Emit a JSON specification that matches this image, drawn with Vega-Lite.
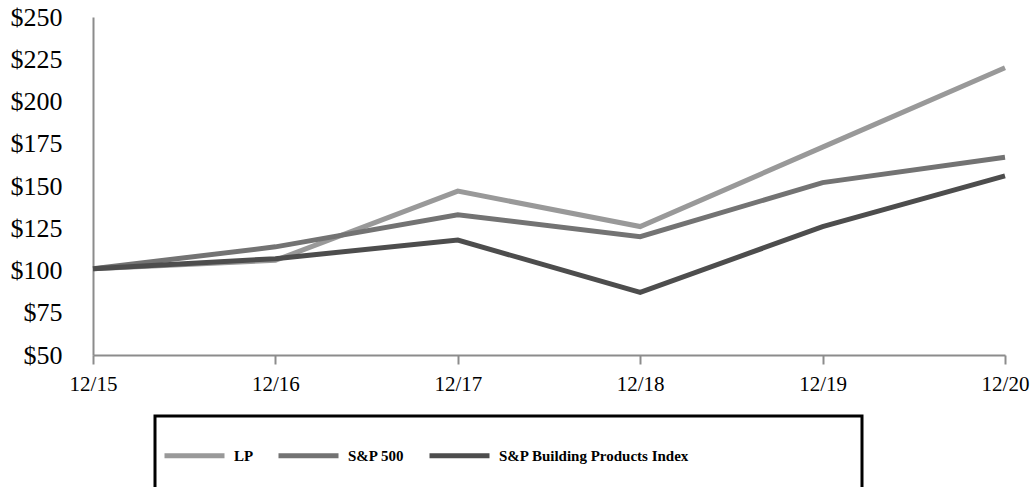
{
  "$schema": "https://vega.github.io/schema/vega-lite/v6.json",
  "width": 912,
  "height": 338,
  "autosize": "none",
  "padding": {"left": 93, "top": 17, "right": 27, "bottom": 132},
  "background": "white",
  "config": {
    "view": {"stroke": null},
    "font": "Liberation Serif"
  },
  "data": {
    "values": [
      {"period": "12/15", "series": "LP", "value": 101},
      {"period": "12/16", "series": "LP", "value": 106},
      {"period": "12/17", "series": "LP", "value": 147},
      {"period": "12/18", "series": "LP", "value": 126},
      {"period": "12/19", "series": "LP", "value": 173},
      {"period": "12/20", "series": "LP", "value": 220},
      {"period": "12/15", "series": "S&P 500", "value": 101},
      {"period": "12/16", "series": "S&P 500", "value": 114},
      {"period": "12/17", "series": "S&P 500", "value": 133},
      {"period": "12/18", "series": "S&P 500", "value": 120},
      {"period": "12/19", "series": "S&P 500", "value": 152},
      {"period": "12/20", "series": "S&P 500", "value": 167},
      {"period": "12/15", "series": "S&P Building Products Index", "value": 101},
      {"period": "12/16", "series": "S&P Building Products Index", "value": 107},
      {"period": "12/17", "series": "S&P Building Products Index", "value": 118},
      {"period": "12/18", "series": "S&P Building Products Index", "value": 87},
      {"period": "12/19", "series": "S&P Building Products Index", "value": 126},
      {"period": "12/20", "series": "S&P Building Products Index", "value": 156}
    ]
  },
  "mark": {"type": "line", "strokeWidth": 5, "strokeCap": "butt", "strokeJoin": "miter"},
  "encoding": {
    "x": {
      "field": "period",
      "type": "ordinal",
      "scale": {"type": "point", "padding": 0},
      "axis": {
        "title": null,
        "labelAngle": 0,
        "labelFont": "Liberation Serif",
        "labelFontSize": 21,
        "labelColor": "black",
        "labelPadding": 9,
        "domainColor": "#8c8c8c",
        "domainWidth": 2,
        "tickColor": "#8c8c8c",
        "tickWidth": 2,
        "tickSize": 9,
        "grid": false
      }
    },
    "y": {
      "field": "value",
      "type": "quantitative",
      "scale": {"domain": [50, 250], "nice": false, "zero": false},
      "axis": {
        "title": null,
        "values": [50, 75, 100, 125, 150, 175, 200, 225, 250],
        "format": "$,.0f",
        "labelFont": "Liberation Serif",
        "labelFontSize": 26,
        "labelColor": "black",
        "labelPadding": 31,
        "ticks": false,
        "tickSize": 0,
        "domainColor": "#8c8c8c",
        "domainWidth": 2,
        "grid": false
      }
    },
    "color": {
      "field": "series",
      "type": "nominal",
      "scale": {
        "domain": ["LP", "S&P 500", "S&P Building Products Index"],
        "range": ["#999999", "#737373", "#4d4d4d"]
      },
      "legend": {
        "title": "\u00a0",
        "titleOrient": "bottom",
        "titleFontSize": 20,
        "titlePadding": 0,
        "orient": "none",
        "legendX": 62,
        "legendY": 399,
        "direction": "horizontal",
        "symbolType": "stroke",
        "symbolSize": 3600,
        "symbolStrokeWidth": 5,
        "labelFont": "Liberation Serif",
        "labelFontWeight": "bold",
        "labelFontSize": 15,
        "labelColor": "black",
        "labelOffset": 7,
        "columnPadding": 14,
        "padding": 7,
        "strokeColor": "black",
        "labelLimit": 0,
        "labelExpr": "datum.label == 'S&P Building Products Index' ? datum.label + '\u00a0\u00a0\u00a0\u00a0\u00a0\u00a0\u00a0\u00a0\u00a0\u00a0\u00a0\u00a0\u00a0\u00a0\u00a0\u00a0\u00a0\u00a0\u00a0\u00a0\u00a0\u00a0\u00a0\u00a0\u00a0\u00a0\u00a0\u00a0\u00a0\u00a0\u00a0\u00a0\u00a0\u00a0\u00a0\u00a0\u00a0\u00a0\u00a0\u00a0\u00a0\u00a0\u00a0\u00a0\u200b' : datum.label",
        "encode": {"legend": {"update": {"strokeWidth": {"value": 3}}}}
      }
    }
  }
}
